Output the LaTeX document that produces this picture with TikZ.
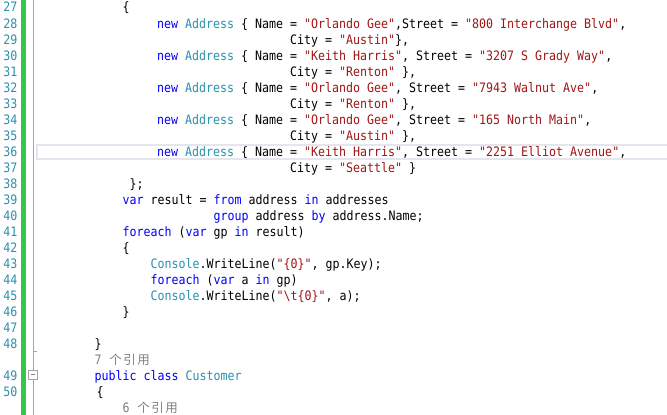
\documentclass[tikz,border=0pt]{standalone}
\usepackage{fontspec}
\newfontfamily\codefont[FakeStretch=0.8945]{DejaVu Sans Mono}
\newfontfamily\cjk{Noto Sans CJK SC}
\definecolor{kw}{RGB}{0,0,255}
\definecolor{ty}{RGB}{43,145,175}
\definecolor{st}{RGB}{163,21,21}
\definecolor{lnum}{RGB}{43,145,175}
\definecolor{refgray}{RGB}{128,128,128}
\definecolor{chgreen}{RGB}{52,200,72}
\definecolor{guide}{RGB}{165,165,165}
\definecolor{curline}{RGB}{229,229,238}
\newcommand{\kw}[1]{\textcolor{kw}{#1}}
\newcommand{\ty}[1]{\textcolor{ty}{#1}}
\newcommand{\st}[1]{\textcolor{st}{#1}}
\newcommand{\cj}[1]{\makebox[14pt][c]{\cjk\fontsize{12.5pt}{14pt}\selectfont #1}}
\frenchspacing
\begin{document}
\begin{tikzpicture}[x=1pt,y=-1pt,
  code/.style={anchor=base west,inner sep=0pt,font=\codefont\fontsize{13pt}{16pt}\selectfont},
  num/.style={anchor=base east,inner sep=0pt,text=lnum,font=\codefont\fontsize{13pt}{16pt}\selectfont},
  refs/.style={code,text=refgray}]
\useasboundingbox (0,0) rectangle (667,415);
\fill[white] (0,0) rectangle (667,415);
% current line highlight
\draw[curline,line width=2pt] (37,145) rectangle (680,159);
% change bar and guide
\fill[chgreen] (21,0) rectangle (25.5,415);
\draw[guide,line width=1pt] (33.5,0) -- (33.5,370.5);
\draw[guide,line width=1pt] (33.5,351) -- (37,351);
\draw[guide,line width=1pt] (33.5,379) -- (33.5,415);
\draw[guide,line width=1pt,fill=white] (28.5,370.5) rectangle (37,379) node[pos=.5] (fold) {};
\draw[guide!80!black,line width=1pt] (30.5,374.8) -- (35,374.8);
% line numbers
\foreach \n [count=\i from 0] in {27,...,48}
  \node[num] (n\n) at (17.5,12+16*\i) {\n};
\node[num] (n49) at (17.5,380) {49};
\node[num] (n50) at (17.5,396) {50};
% code
\node[code] (l27) at (122.5,12) {\{};
\node[code] (l28) at (157,28) {\kw{new} \ty{Address} \{ Name = \st{"Orlando Gee"},Street = \st{"800 Interchange Blvd"},};
\node[code] (l29) at (290,44) {City = \st{"Austin"}\},};
\node[code] (l30) at (157,60) {\kw{new} \ty{Address} \{ Name = \st{"Keith Harris"}, Street = \st{"3207 S Grady Way"},};
\node[code] (l31) at (290,76) {City = \st{"Renton"} \},};
\node[code] (l32) at (157,92) {\kw{new} \ty{Address} \{ Name = \st{"Orlando Gee"}, Street = \st{"7943 Walnut Ave"},};
\node[code] (l33) at (290,108) {City = \st{"Renton"} \},};
\node[code] (l34) at (157,124) {\kw{new} \ty{Address} \{ Name = \st{"Orlando Gee"}, Street = \st{"165 North Main"},};
\node[code] (l35) at (290,140) {City = \st{"Austin"} \},};
\node[code] (l36) at (157,156) {\kw{new} \ty{Address} \{ Name = \st{"Keith Harris"}, Street = \st{"2251 Elliot Avenue"},};
\node[code] (l37) at (290,172) {City = \st{"Seattle"} \}};
\node[code] (l38) at (129.5,188) {\};};
\node[code] (l39) at (122.5,204) {\kw{var} result = \kw{from} address \kw{in} addresses};
\node[code] (l40) at (213.5,220) {\kw{group} address \kw{by} address.Name;};
\node[code] (l41) at (122.5,236) {\kw{foreach} (\kw{var} gp \kw{in} result)};
\node[code] (l42) at (122.5,252) {\{};
\node[code] (l43) at (150.5,268) {\ty{Console}.WriteLine(\st{"\{0\}"}, gp.Key);};
\node[code] (l44) at (150.5,284) {\kw{foreach} (\kw{var} a \kw{in} gp)};
\node[code] (l45) at (150.5,300) {\ty{Console}.WriteLine(\st{"\textbackslash t\{0\}"}, a);};
\node[code] (l46) at (122.5,316) {\}};
\node[code] (l48) at (94.5,348) {\}};
\node[refs] (r7) at (94.5,364) {7 \cj{个}\cj{引}\cj{用}};
\node[code] (l49) at (94.5,380) {\kw{public} \kw{class} \ty{Customer}};
\node[code] (l50) at (96.5,396) {\{};
\node[refs] (r6) at (122.5,412) {6 \cj{个}\cj{引}\cj{用}};
\end{tikzpicture}
\end{document}
